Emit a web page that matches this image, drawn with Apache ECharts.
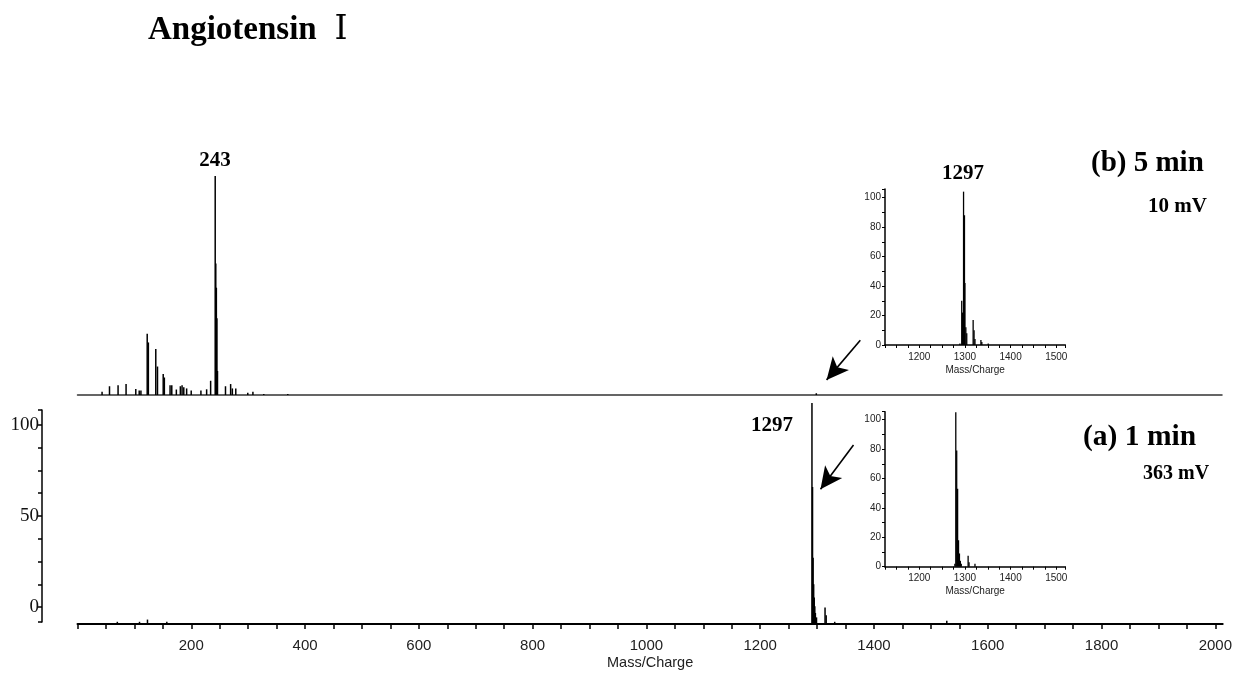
<!DOCTYPE html>
<html>
<head>
<meta charset="utf-8">
<script src="https://cdn.jsdelivr.net/npm/echarts@6/dist/echarts.min.js"></script>
<style>
html,body{margin:0;padding:0;background:#fff;}
#chart{width:1235px;height:673px;}
</style>
</head>
<body>
<div id="chart"></div>
<script>
// ---- Data ----
// (b) 5 min spectrum, main panel: [mass/charge, relative intensity %]
const spectrumB = [
  [43,1.5],[56,4],[71,4.5],[85,5],[102,2.7],[108,2],[111,2],[122,28],[124,24],
  [137,21],[140,13],[150,9.6],[152,8],[162,4.5],[165,4.5],[173,2.5],[180,4],
  [183,4.5],[186,3.5],[191,3],[199,2],[216,2],[226,2.6],[233,6.5],[241,100],
  [242,60],[243,49],[244,35],[245,11],[259,4],[268,5],[271,3],[277,3],[298,1],
  [307,1.5],[326,0.5],[368,0.5],[1293,0.8]
];
// (a) 1 min spectrum, main panel
const spectrumA = [
  [70,1],[109,1],[123,2],[157,1],[1291,100],[1292,62],[1293,30],[1294,18],
  [1295,12],[1296,8],[1297,5],[1299,3],[1314,7.5],[1316,4],[1331,1],[1528,1.5]
];
// insets (zoom 1125-1520)
const insetB = [
  [1289,1],[1293,30],[1295,22],[1297,104],[1299,88],[1300,42],[1302,12],[1304,8],
  [1318,17],[1320,10],[1322,4],[1335,3.4],[1337,2],[1351,1]
];
const insetA = [
  [1278,2],[1280,105],[1282,79],[1284,53],[1286,18],[1288,9],[1290,4],[1292,2],
  [1307,7.5],[1309,3],[1322,2]
];
// tick labels
const leftAxisLabels = [0, 50, 100];
const leftAxisTicks = [-8.2, 0, 12.5, 25, 37.5, 50, 62.5, 75, 87.5, 100, 108.2];
// annotation texts
const titleText = 'Angiotensin';
const titleNumeral = '\u2160';
const panelB = '(b) 5 min', panelBmv = '10 mV';
const panelA = '(a) 1 min', panelAmv = '363 mV';
const peakLabelB = '243', peakLabelInset = '1297', peakLabelA = '1297';
const xName = 'Mass/Charge';
// arrows in data space: [[x1,y1],[x2,y2]]
const arrowB = [[1370,25],[1311,6.9]];
const arrowA = [[1364,81],[1306,61]];

const SERIF = '"Liberation Serif","DejaVu Serif","Noto Serif",serif';
const SANS = '"Liberation Sans",Arial,sans-serif';

const chart = echarts.init(document.getElementById('chart'), null, {renderer:'canvas'});

function arrowMark(pts){
  return {
    silent:true, symbol:['none','arrow'], symbolSize:[16,22],
    label:{show:false},
    lineStyle:{color:'#000', width:1.6, type:'solid'},
    emphasis:{disabled:true},
    data:[[{coord:pts[0]},{coord:pts[1]}]]
  };
}

const insetX = (gi) => ({
  type:'value', gridIndex:gi, min:1125, max:1520, interval:25,
  axisLine:{show:true, lineStyle:{color:'#000', width:1.5}, onZero:false},
  axisTick:{show:true, length:3, lineStyle:{color:'#000', width:1}},
  axisLabel:{color:'#222', fontFamily:SANS, fontSize:10, margin:7,
    formatter:(v)=> (v%100===0 ? String(v) : '')},
  splitLine:{show:false},
  name:xName, nameLocation:'middle', nameGap:20,
  nameTextStyle:{color:'#222', fontFamily:SANS, fontSize:10}
});
const insetY = (gi, max) => ({
  type:'value', gridIndex:gi, min:0, max:max, interval:10,
  axisLine:{show:true, lineStyle:{color:'#000', width:1.5}},
  axisTick:{show:true, length:3, lineStyle:{color:'#000', width:1}},
  axisLabel:{color:'#222', fontFamily:SANS, fontSize:10, margin:4,
    formatter:(v)=> (v%20===0 ? String(v) : '')},
  splitLine:{show:false}
});

const option = {
  animation:false,
  backgroundColor:'#fff',
  grid:[
    {left:77.5, right:13, top:176, bottom:278},
    {left:77.5, right:7, top:403, bottom:49},
    {left:42, width:1, top:410, bottom:51},
    {left:885, width:180.4, top:189, height:156},
    {left:885, width:180.4, top:411.7, height:155}
  ],
  xAxis:[
    {type:'value', gridIndex:0, min:0, max:2003,
      axisLine:{show:true, lineStyle:{color:'#333', width:1.5}, onZero:false},
      axisTick:{show:false}, axisLabel:{show:false}, splitLine:{show:false}},
    {type:'value', gridIndex:1, min:0, max:2013, interval:50,
      axisLine:{show:true, lineStyle:{color:'#000', width:2}, onZero:false},
      axisTick:{show:true, length:5, lineStyle:{color:'#000', width:1.5}},
      axisLabel:{color:'#222', fontFamily:SANS, fontSize:15, margin:14, showMaxLabel:false,
        formatter:(v)=> (v>0 && v%200===0 ? String(v) : '')},
      splitLine:{show:false},
      name:xName, nameLocation:'middle', nameGap:31,
      nameTextStyle:{color:'#222', fontFamily:SANS, fontSize:14.5}},
    {type:'value', gridIndex:2, min:0, max:1, show:false},
    insetX(3),
    insetX(4)
  ],
  yAxis:[
    {type:'value', gridIndex:0, min:0, max:100, show:false},
    {type:'value', gridIndex:1, min:0, max:100, show:false},
    {type:'value', gridIndex:2, min:-8.2, max:108.2,
      axisLine:{show:true, lineStyle:{color:'#000', width:1.5}},
      axisTick:{show:true, length:4, customValues:leftAxisTicks, lineStyle:{color:'#000', width:1.5}},
      axisLabel:{color:'#111', fontFamily:SERIF, fontSize:19, margin:3, customValues:leftAxisLabels},
      splitLine:{show:false}},
    insetY(3, 105.8),
    insetY(4, 105.4)
  ],
  series:[
    {type:'bar', xAxisIndex:0, yAxisIndex:0, data:spectrumB, barWidth:1.5,
      itemStyle:{color:'#000'}, silent:true, markLine:arrowMark(arrowB)},
    {type:'bar', xAxisIndex:1, yAxisIndex:1, data:spectrumA, barWidth:1.5,
      itemStyle:{color:'#000'}, silent:true, markLine:arrowMark(arrowA)},
    {type:'bar', xAxisIndex:3, yAxisIndex:3, data:insetB, barWidth:1.3,
      itemStyle:{color:'#000'}, silent:true},
    {type:'bar', xAxisIndex:4, yAxisIndex:4, data:insetA, barWidth:1.3,
      itemStyle:{color:'#000'}, silent:true}
  ],
  graphic:[
    {type:'text', x:148, y:30, style:{text:titleText, font:'bold 33px '+SERIF, fill:'#000', align:'left', verticalAlign:'middle'}},
    {type:'text', x:341, y:30, style:{text:titleNumeral, font:'normal 33px '+SERIF, fill:'#000', align:'center', verticalAlign:'middle'}},
    {type:'text', x:215, y:160.5, style:{text:peakLabelB, font:'bold 21px '+SERIF, fill:'#000', align:'center', verticalAlign:'middle'}},
    {type:'text', x:963, y:174, style:{text:peakLabelInset, font:'bold 21px '+SERIF, fill:'#000', align:'center', verticalAlign:'middle'}},
    {type:'text', x:772, y:425.5, style:{text:peakLabelA, font:'bold 21px '+SERIF, fill:'#000', align:'center', verticalAlign:'middle'}},
    {type:'text', x:1091, y:164, style:{text:panelB, font:'bold 29px '+SERIF, fill:'#000', align:'left', verticalAlign:'middle'}},
    {type:'text', x:1148, y:207, style:{text:panelBmv, font:'bold 21px '+SERIF, fill:'#000', align:'left', verticalAlign:'middle'}},
    {type:'text', x:1083, y:437.5, style:{text:panelA, font:'bold 29.5px '+SERIF, fill:'#000', align:'left', verticalAlign:'middle'}},
    {type:'text', x:1143, y:473.5, style:{text:panelAmv, font:'bold 20px '+SERIF, fill:'#000', align:'left', verticalAlign:'middle'}}
  ]
};
chart.setOption(option);
</script>
</body>
</html>
